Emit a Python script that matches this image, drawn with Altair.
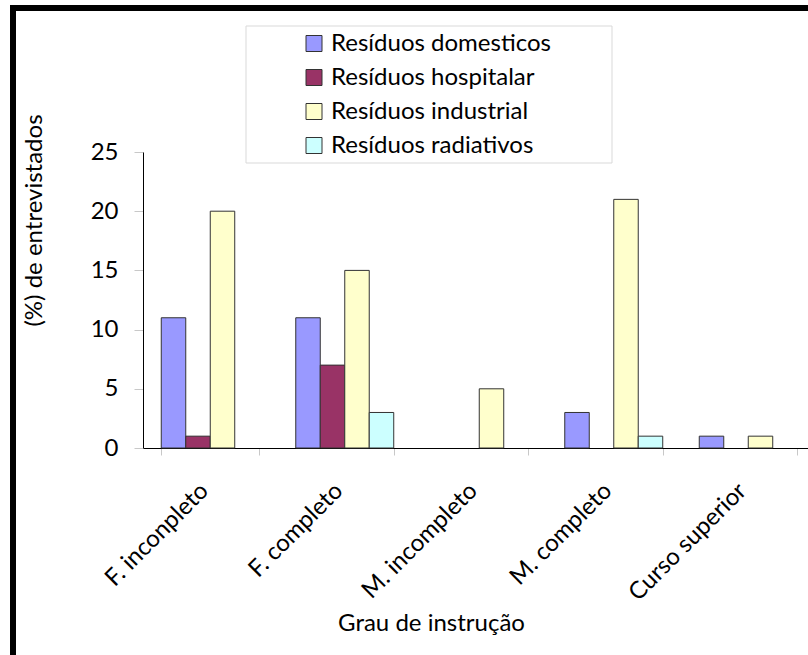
import altair as alt
import pandas as pd

# Grau de instrução dos entrevistados
categorias = ["F. inconpleto", "F. completo", "M. incompleto", "M. completo", "Curso superior"]

# Percentual de entrevistados por tipo de resíduo
series = ["Resíduos domesticos", "Resíduos hospitalar", "Resíduos industrial", "Resíduos radiativos"]
domesticos = [11, 11, 0, 3, 1]
hospitalar = [1, 7, 0, 0, 0]
industrial = [20, 15, 5, 21, 1]
radiativos = [0, 3, 0, 1, 0]

cores = ["#9999FF", "#993366", "#FFFFCC", "#CCFFFF"]

rows = []
for serie, valores in zip(series, [domesticos, hospitalar, industrial, radiativos]):
    for cat, v in zip(categorias, valores):
        rows.append({"grau": cat, "serie": serie, "valor": v})
df = pd.DataFrame(rows)

FONT = "Lato"
FS = 24
W, H = 672.5, 296

bars = alt.Chart(df).transform_filter("datum.valor > 0").mark_bar(
    stroke="#333333", strokeWidth=1
).encode(
    x=alt.X("grau:N", sort=categorias,
            scale=alt.Scale(paddingInner=0.2714, paddingOuter=0.1357),
            axis=alt.Axis(title="Grau de instrução", labelAngle=-45,
                          labelAlign="right", labelBaseline="middle",
                          labelPadding=32, labelOffset=-6, labelFont=FONT, labelFontSize=FS,
                          labelColor="black", labelLimit=400, tickBand="extent", tickSize=7,
                          tickColor="#c8c8c8", domainColor="black",
                          titleFont=FONT, titleFontSize=FS, titleFontWeight="normal",
                          titleColor="black", titleX=288, titleY=182,
                          titleBaseline="alphabetic", titleAlign="center")),
    xOffset=alt.XOffset("serie:N", scale=alt.Scale(domain=series, paddingInner=0, paddingOuter=0)),
    y=alt.Y("valor:Q", scale=alt.Scale(domain=[0, 25], nice=False),
            axis=alt.Axis(title="(%) de entrevistados", values=[0, 5, 10, 15, 20, 25],
                          grid=False, tickSize=9, tickColor="#c8c8c8",
                          domainColor="black", labelPadding=16, labelFont=FONT,
                          labelFontSize=FS, labelColor="black",
                          titleFont=FONT, titleFontSize=FS, titleFontWeight="normal",
                          titleColor="black", titleX=-109, titleY=68,
                          titleAlign="center", titleBaseline="middle", titleAngle=-90)),
    color=alt.Color("serie:N", scale=alt.Scale(domain=series, range=cores),
                    legend=alt.Legend(title=None, orient="none", legendX=159, legendY=-120.5,
                                      symbolType="square", symbolSize=256,
                                      symbolStrokeColor="#333333", symbolStrokeWidth=1,
                                      labelFont=FONT, labelFontSize=FS, labelColor="black",
                                      labelLimit=400, labelOffset=5, rowPadding=10, padding=0)),
)

box = pd.DataFrame({"k": [0]})

legend_box = alt.Chart(box).mark_rect(fill="white", stroke="#d9d9d9", strokeWidth=1).encode(
    x=alt.value(103), x2=alt.value(469), y=alt.value(-126), y2=alt.value(11)
)

frame = alt.Chart(box).mark_rect(fillOpacity=0, stroke="black", strokeWidth=6).encode(
    x=alt.value(-130), x2=alt.value(900), y=alt.value(-144), y2=alt.value(800)
)

chart = alt.layer(legend_box, bars, frame).properties(
    width=W, height=H,
    autosize=alt.AutoSizeParams(type="none"),
    padding={"left": 143, "top": 152, "right": -7.5, "bottom": 207},
    background="white",
).configure_view(strokeWidth=0)

chart.save("out.html", embed_options={"renderer": "svg", "actions": False})
